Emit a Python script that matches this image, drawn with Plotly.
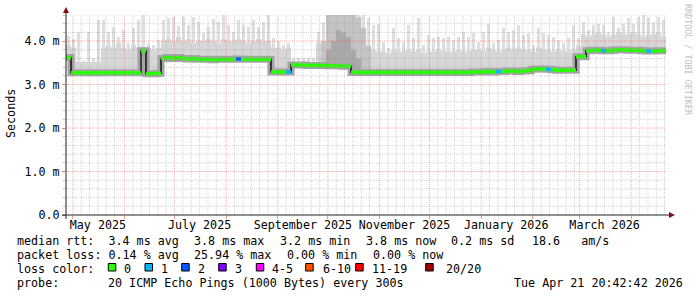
import plotly.graph_objects as go
import pandas as pd

# ---------------- data ----------------
# 3-day bins (edges) covering the 360-day window
bin_edges = pd.date_range("2025-04-26 20:42", periods=121, freq="3D")

median_rtt = [
    3.62,
    3.27, 3.27, 3.27, 3.27, 3.27, 3.27, 3.27, 3.27, 3.27, 3.27, 3.27, 3.27, 3.27, 3.27,
    3.78,
    3.25, 3.25, 3.26,
    3.60, 3.62, 3.60, 3.62, 3.60, 3.59, 3.60, 3.58, 3.58, 3.58, 3.57, 3.58, 3.58, 3.58,
    3.58, 3.59, 3.58, 3.58, 3.58, 3.58, 3.58, 3.58,
    3.29, 3.29, 3.29, 3.29,
    3.45, 3.45, 3.45, 3.44, 3.44, 3.44, 3.44, 3.43, 3.43, 3.43, 3.42, 3.42,
    3.28, 3.28, 3.28, 3.28, 3.28, 3.28, 3.28, 3.28, 3.28, 3.28, 3.28, 3.28,
    3.28, 3.28, 3.28, 3.28, 3.28, 3.28, 3.28, 3.28, 3.28, 3.28, 3.28, 3.28,
    3.29, 3.29, 3.29, 3.30, 3.29, 3.30, 3.30, 3.31, 3.31, 3.30, 3.31, 3.32,
    3.35, 3.36, 3.36, 3.35, 3.34,
    3.33, 3.33, 3.33, 3.33,
    3.64, 3.64,
    3.78, 3.79, 3.79, 3.78, 3.78, 3.79, 3.80, 3.80, 3.79, 3.79, 3.79, 3.78, 3.77, 3.77,
    3.78, 3.78,
]

loss_count = [0] * 120
loss_events = {34: 2, 44: 1, 86: 1, 96: 1, 107: 1, 116: 1}

smoke_max = [
    4.12, 4.05, 4.21, 3.55, 4.20, 3.60, 4.48, 4.48, 4.21, 4.33, 4.10, 4.25, 3.95, 4.29,
    4.48, 4.60, 3.95, 3.90, 4.02, 4.48, 4.52, 4.55, 4.35, 4.55, 4.38, 4.55, 4.44, 4.18,
    4.33, 4.50, 4.44, 4.60, 4.37, 4.21, 4.48, 4.37, 4.33, 4.48, 4.33, 4.44, 4.60, 4.06,
    4.00, 3.90, 3.95, 3.60, 3.60, 3.60, 3.60, 3.62, 4.21, 4.44, 4.60, 4.60, 4.60, 4.60,
    4.60, 4.60, 4.60, 4.60, 4.52, 4.37, 4.40, 3.98, 3.83, 4.29, 4.06, 3.98, 4.37, 4.06,
    4.52, 3.91, 4.14, 4.06, 4.10, 4.06, 4.10, 4.02, 4.10, 4.21, 4.10, 4.18, 3.98, 4.21,
    4.40, 3.95, 4.02, 4.29, 4.21, 4.25, 4.37, 4.14, 4.18, 3.91, 4.29, 4.18, 4.14, 4.10,
    4.02, 3.95, 4.06, 4.37, 4.06, 4.44, 4.25, 4.37, 4.40, 4.37, 4.21, 4.55, 4.29, 4.40,
    4.52, 4.40, 4.55, 4.60, 4.52, 4.44, 4.55, 4.48,
]

smoke_base = [
    3.90, 3.85,
    3.52, 3.52, 3.52, 3.52, 3.52,
    3.85, 3.90, 3.85, 3.95, 3.85, 3.80, 3.90, 3.85,
    3.85, 3.85, 3.80, 3.85,
    4.00, 4.05, 4.00, 4.10, 4.00, 4.05, 3.95, 4.00, 4.00, 4.05, 4.00, 3.95, 4.05, 4.00,
    4.00, 4.05, 4.00, 3.95, 4.00, 4.05, 4.00, 4.00,
    3.85, 3.85, 3.80, 3.85,
    3.52, 3.52, 3.52, 3.52, 3.52,
    3.95, 3.95, 4.00,
    4.10, 4.10, 4.10, 4.10, 4.10, 4.10, 4.10,
    3.85, 3.80, 3.76, 3.76, 3.72, 3.80, 3.76, 3.76, 3.80, 3.76, 3.80, 3.72, 3.76, 3.76,
    3.80, 3.76, 3.76, 3.76, 3.80, 3.76, 3.76, 3.80,
    3.80, 3.76, 3.85, 3.80, 3.76, 3.80, 3.85, 3.80, 3.85, 3.80, 3.80, 3.76, 3.85, 3.80,
    3.80, 3.76, 3.80, 3.76, 3.76, 3.80, 3.90,
    4.15, 4.10, 4.15, 4.20, 4.15, 4.10, 4.15, 4.20, 4.15, 4.15, 4.20, 4.15, 4.10, 4.15,
    4.15, 4.20, 4.10,
]

# high-jitter period (bins 51..60)
jitter_first_bin = 51
jitter_mid = [4.00, 4.60, 4.60, 4.60, 4.60, 4.60, 4.60, 4.55, 4.30, 3.90]
jitter_dark = [0.0, 3.80, 4.00, 4.25, 4.20, 4.10, 3.80, 3.60, 0.0, 0.0]

y_tick_vals = [0, 1, 2, 3, 4]
y_tick_text = ["0.0", "1.0 m", "2.0 m", "3.0 m", "4.0 m"]
x_label_months = ["2025-05-01", "2025-07-01", "2025-09-01", "2025-11-01", "2026-01-01", "2026-03-01"]
x_label_text = ["May 2025", "July 2025", "September 2025", "November 2025", "January 2026", "March 2026"]

loss_levels = ["0", "1", "2", "3", "4-5", "6-10", "11-19", "20/20"]
loss_colors = ["#26ff00", "#00b8ff", "#0059ff", "#7e00ff", "#ff00ff", "#ff5500", "#ff0000", "#a10000"]

stats_rtt = [("median rtt:  3.4 ms avg", 16), ("3.8 ms max", 193.3), ("3.2 ms min", 279.3),
             ("3.8 ms now", 365), ("0.2 ms sd", 450), ("18.6   am/s", 530.7)]
stats_loss = [("packet loss: 0.14 % avg", 16), ("25.94 % max", 193.3), ("0.00 % min", 286),
              ("0.00 % now", 371.5)]
probe_text = "20 ICMP Echo Pings (1000 Bytes) every 300s"
stamp_text = "Tue Apr 21 20:42:42 2026"

for k, v in loss_events.items():
    loss_count[k] = v

# ---------------- geometry helpers ----------------
W, H = 697, 297
PL, PR, PT, PB = 66, 666, 15, 215
FONT = "DejaVu Sans Mono"


def px(xp):
    return (xp - PL) / (PR - PL)


def py(yp):
    return (PB - yp) / (PB - PT)


edges = list(bin_edges)
centers = [edges[i] + (edges[i + 1] - edges[i]) / 2 for i in range(len(edges) - 1)]
DAY_MS = 86400000


def step(vals, e):
    return list(vals) + [vals[-1]], e


fig = go.Figure()

# slowest-ping spikes as thin bars
fig.add_trace(go.Bar(x=centers, y=smoke_max, width=[2.3 * DAY_MS] * len(centers),
                     marker=dict(color="#dfdfdf", line=dict(width=0)), hoverinfo="skip",
                     showlegend=False))

# smoke layers
for vals, col, e in [
    (smoke_base, "#d7d7d7", edges),
    (jitter_mid, "#c4c4c4", edges[jitter_first_bin:jitter_first_bin + len(jitter_mid) + 1]),
    (jitter_dark, "#a9a9a9", edges[jitter_first_bin:jitter_first_bin + len(jitter_dark) + 1]),
]:
    yv, xv = step(vals, e)
    fig.add_trace(go.Scatter(x=xv, y=yv, mode="lines", line=dict(width=0, shape="hv", color=col),
                             fill="tozeroy", fillcolor=col, hoverinfo="skip", showlegend=False))

ym, xm = step(median_rtt, edges)
# white cover below the median
fig.add_trace(go.Scatter(x=xm, y=ym, mode="lines", line=dict(width=0, shape="hv", color="white"),
                         fill="tozeroy", fillcolor="white", hoverinfo="skip", showlegend=False))
# dark smoke core around median
fig.add_trace(go.Scatter(x=xm, y=ym, mode="lines", line=dict(width=7, shape="hv", color="#a4a4a4"),
                         hoverinfo="skip", showlegend=False))
fig.add_trace(go.Scatter(x=xm, y=ym, mode="lines", line=dict(width=1.5, shape="hv", color="#111111"),
                         hoverinfo="skip", showlegend=False))

# loss-coloured median segments
def loss_idx(n):
    if n <= 3:
        return n
    if n <= 5:
        return 4
    if n <= 10:
        return 5
    if n <= 19:
        return 6
    return 7

for li, col in enumerate(loss_colors):
    xs, ys = [], []
    for i, v in enumerate(median_rtt):
        if loss_idx(loss_count[i]) == li:
            xs += [edges[i], edges[i + 1], None]
            ys += [v, v, None]
    if xs:
        fig.add_trace(go.Scatter(x=xs, y=ys, mode="lines", line=dict(width=3.5, color=col),
                                 hoverinfo="skip", showlegend=False, connectgaps=False))

MINOR = "rgba(150,150,150,0.42)"
MAJOR = "rgba(224,80,80,0.42)"
shapes = []
# minor vertical grid: days 6,11,16,21,26 of each month
months = pd.date_range("2025-04-01", "2026-04-01", freq="MS")
for m in months:
    for d in (5, 10, 15, 20, 25):
        t = m + pd.Timedelta(days=d)
        if edges[0] < t < edges[-1]:
            shapes.append(dict(type="line", xref="x", yref="paper", x0=t, x1=t, y0=0, y1=1,
                               line=dict(color=MINOR, width=1, dash="1px,1px"), layer="above"))
# minor horizontal grid
for k in range(1, 24):
    v = k * 0.2
    if k % 5 == 0:
        continue
    shapes.append(dict(type="line", xref="paper", yref="y", x0=0, x1=1, y0=v, y1=v,
                       line=dict(color=MINOR, width=1, dash="1px,1px"), layer="above"))
# major grid
for m in months[1:]:
    shapes.append(dict(type="line", xref="x", yref="paper", x0=m, x1=m, y0=0, y1=1,
                       line=dict(color=MAJOR, width=1, dash="1px,1px"), layer="above"))
for v in y_tick_vals[1:]:
    shapes.append(dict(type="line", xref="paper", yref="y", x0=0, x1=1, y0=v, y1=v,
                       line=dict(color=MAJOR, width=1, dash="1px,1px"), layer="above"))
# axis lines
shapes.append(dict(type="line", xref="paper", yref="paper", x0=px(62), x1=px(671), y0=0, y1=0,
                   line=dict(color="#202020", width=1), layer="above"))
shapes.append(dict(type="line", xref="paper", yref="paper", x0=0, x1=0, y0=py(219), y1=py(10),
                   line=dict(color="#202020", width=1), layer="above"))
# arrows
shapes.append(dict(type="path", xref="paper", yref="paper",
                   path=f"M {px(669)} {py(212)} L {px(675)} {py(215)} L {px(669)} {py(218)} Z",
                   fillcolor="#801010", line=dict(width=0), layer="above"))
shapes.append(dict(type="path", xref="paper", yref="paper",
                   path=f"M {px(63)} {py(13)} L {px(66)} {py(7)} L {px(69)} {py(13)} Z",
                   fillcolor="#801010", line=dict(width=0), layer="above"))

# legend boxes
box_left = [108.3, 145, 181.7, 218.7, 256.3, 305.7, 355.7, 425.7]
for bx, col in zip(box_left, loss_colors):
    shapes.append(dict(type="rect", xref="paper", yref="paper", x0=px(bx), x1=px(bx + 7.5),
                       y0=py(271), y1=py(263.5), fillcolor=col, line=dict(color="#000000", width=1)))

annotations = []


def txt(s, x, y, size=11.7, color="#000000", anchor="left", angle=0):
    annotations.append(dict(text=s, xref="paper", yref="paper", x=px(x), y=py(y), xanchor=anchor,
                            yanchor="middle", showarrow=False, textangle=angle, borderpad=0,
                            font=dict(family=FONT, size=size, color=color)))


ROW = [240.5, 255.2, 269, 283.3]
for s, x in stats_rtt:
    txt(s, x, ROW[0])
for s, x in stats_loss:
    txt(s, x, ROW[1])
txt("loss color:", 16, ROW[2])
label_left = [123.3, 160, 197, 234, 270.7, 321.7, 371, 445]
for s, x in zip(loss_levels, label_left):
    txt(s, x, ROW[2])
txt("probe:", 16, ROW[3])
txt(probe_text, 107.3, ROW[3])
txt(stamp_text, 513.3, ROW[3])
txt("Seconds", 11, 114, angle=-90, anchor="center")
txt("RRDTOOL / TOBI OETIKER", 688, 60, size=8.4, color="#c0c0c0", anchor="center", angle=90)

label_pos = [pd.Timestamp(m) + pd.Timedelta(days=15) for m in x_label_months]

fig.update_layout(
    width=W, height=H, margin=dict(l=PL, r=W - PR, t=PT, b=H - PB),
    paper_bgcolor="white", plot_bgcolor="white", bargap=0,
    shapes=shapes, annotations=annotations, showlegend=False,
    xaxis=dict(type="date", range=[edges[0], edges[-1]], showgrid=False, zeroline=False,
               showline=False, tickmode="array", tickvals=label_pos, ticktext=x_label_text,
               ticks="", tickfont=dict(family=FONT, size=11.7, color="#000000"),
               ticklabelstandoff=1,
               minor=dict(tickmode="array", tickvals=list(months[1:]), ticks="outside",
                          ticklen=3, tickcolor="rgba(224,80,80,0.6)", showgrid=False)),
    yaxis=dict(range=[0, 4.6], showgrid=False, zeroline=False, showline=False,
               tickmode="array", tickvals=y_tick_vals, ticktext=y_tick_text,
               ticks="outside", ticklen=3, tickcolor="rgba(224,80,80,0.6)",
               tickfont=dict(family=FONT, size=11.7, color="#000000"),
               minor=dict(dtick=0.2, ticks="outside", ticklen=2,
                          tickcolor="rgba(144,144,144,0.6)", showgrid=False)),
)

fig.write_html("out.html")
